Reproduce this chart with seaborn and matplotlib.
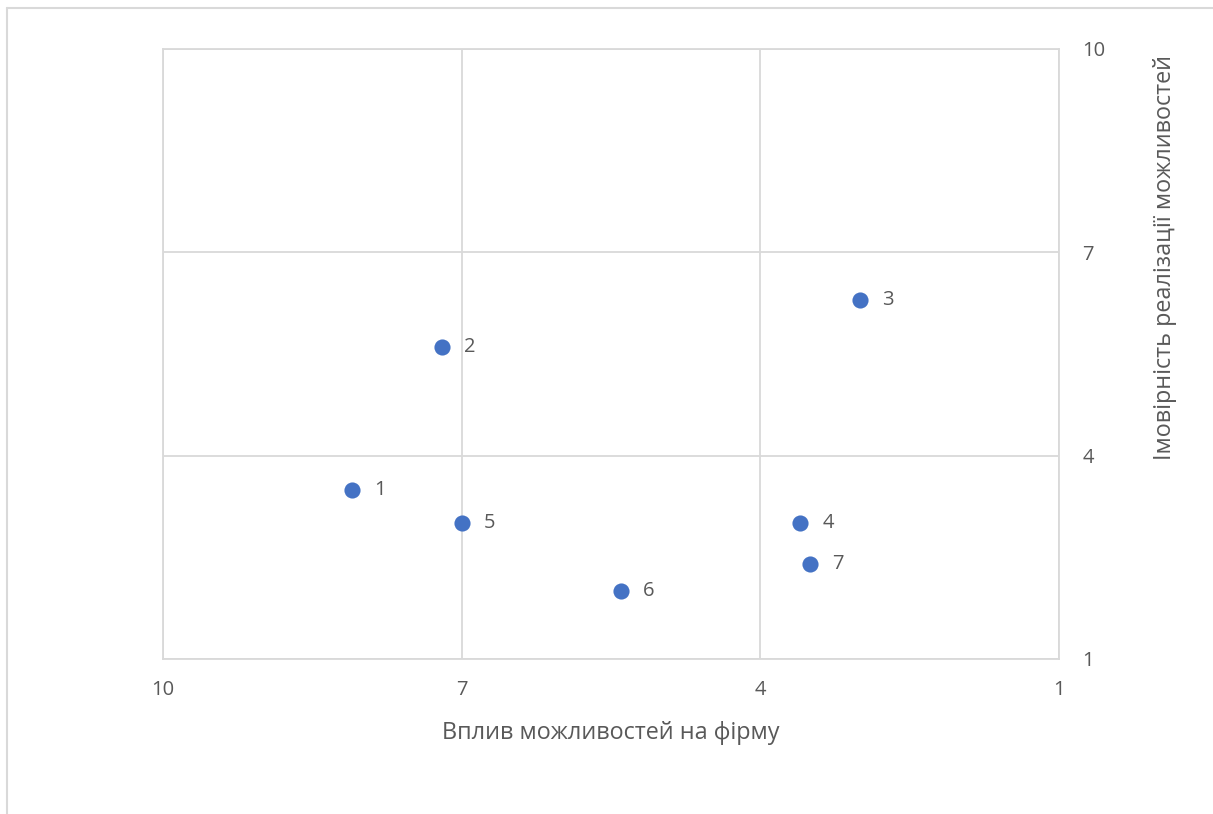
import matplotlib
matplotlib.use("Agg")
import matplotlib.pyplot as plt
import seaborn as sns
import pandas as pd
from matplotlib.lines import Line2D

# Opportunity matrix: impact on the firm vs. probability of realization
labels = ["1", "2", "3", "4", "5", "6", "7"]
impact = [8.1, 7.2, 3.0, 3.6, 7.0, 5.4, 3.5]
probability = [3.5, 5.6, 6.3, 3.0, 3.0, 2.0, 2.4]
ticks = [10, 7, 4, 1]

df = pd.DataFrame({"label": labels, "impact": impact, "probability": probability})

sns.set_theme(style="white")
plt.rcParams["font.family"] = ["Open Sans", "DejaVu Sans"]

text_color = "#595959"
grid_color = "#d9d9d9"
point_color = "#4472C4"

fig = plt.figure(figsize=(12.13, 8.14), dpi=100)
ax = fig.add_axes([163 / 1213, 1 - 659 / 814, (1059 - 163) / 1213, (659 - 49) / 814])

sns.scatterplot(data=df, x="impact", y="probability", ax=ax, s=135,
                color=point_color, edgecolor=point_color, linewidth=0, zorder=3)

for _, r in df.iterrows():
    ax.annotate(r["label"], (r["impact"], r["probability"]), xytext=(16, 0),
                textcoords="offset points", va="center", ha="left",
                fontsize=14.5, color=text_color)

ax.set_xlim(10, 1)
ax.set_ylim(1, 10)
ax.set_xticks(ticks)
ax.set_yticks(ticks)
ax.grid(True, color=grid_color, linewidth=1.3)
ax.set_axisbelow(True)
for sp in ax.spines.values():
    sp.set_color(grid_color)
    sp.set_linewidth(1.3)

ax.yaxis.tick_right()
ax.yaxis.set_label_position("right")
ax.tick_params(axis="both", length=0, labelsize=14.5, labelcolor=text_color)
ax.tick_params(axis="x", pad=15)
ax.tick_params(axis="y", pad=17)

ax.set_xlabel("Вплив можливостей на фірму", fontsize=16.8, color=text_color, labelpad=15)
ax.set_ylabel("")
fig.text(1165 / 1213, 1 - 258 / 814, "Імовірність реалізації можливостей",
         rotation=90, ha="center", va="center", fontsize=16.8, color=text_color)

# chart area border (left and top edges visible)
fig.add_artist(Line2D([7 / 1213, 7 / 1213], [0, 1 - 8 / 814], transform=fig.transFigure,
                      color=grid_color, linewidth=1.5))
fig.add_artist(Line2D([7 / 1213, 1], [1 - 8 / 814, 1 - 8 / 814], transform=fig.transFigure,
                      color=grid_color, linewidth=1.5))

fig.savefig("out.png", dpi=100, facecolor="white")
